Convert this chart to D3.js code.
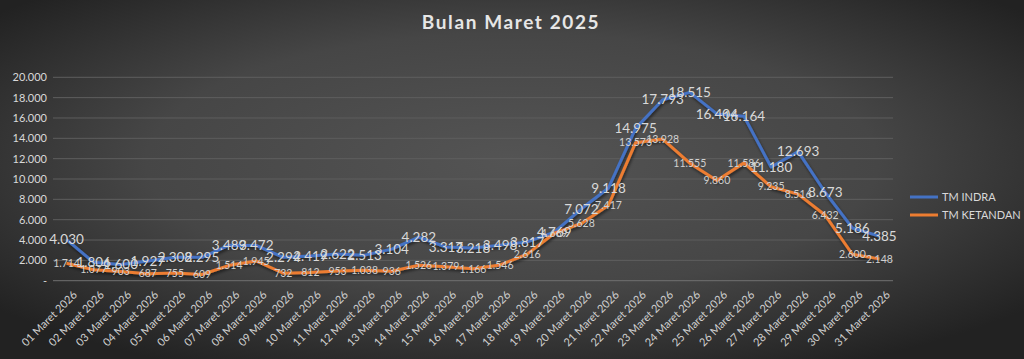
<!DOCTYPE html>
<html><head><meta charset="utf-8">
<script src="https://cdn.jsdelivr.net/npm/d3@7"></script>
<style>
html,body{margin:0;padding:0;background:#333;}
svg{display:block;font-family:Lato,"Open Sans",sans-serif;}
</style></head>
<body><svg id="c" width="1024" height="359"></svg>
<script>
const categories = ["01 Maret 2026","02 Maret 2026","03 Maret 2026","04 Maret 2026","05 Maret 2026","06 Maret 2026","07 Maret 2026","08 Maret 2026","09 Maret 2026","10 Maret 2026","11 Maret 2026","12 Maret 2026","13 Maret 2026","14 Maret 2026","15 Maret 2026","16 Maret 2026","17 Maret 2026","18 Maret 2026","19 Maret 2026","20 Maret 2026","21 Maret 2026","22 Maret 2026","23 Maret 2026","24 Maret 2026","25 Maret 2026","26 Maret 2026","27 Maret 2026","28 Maret 2026","29 Maret 2026","30 Maret 2026","31 Maret 2026"];
const tmIndra = [4030,1806,1600,1927,2308,2295,3489,3472,2294,2419,2622,2513,3104,4282,3317,3218,3498,3817,4769,7072,9118,14975,17793,18515,16404,16164,11180,12693,8673,5186,4385];
const tmKetandan = [1714,1077,903,687,755,609,1514,1945,732,812,953,1038,936,1526,1379,1166,1546,2616,4669,5628,7417,13573,13928,11555,9860,11586,9235,8516,6432,2600,2148];
const yTicks = [0,2000,4000,6000,8000,10000,12000,14000,16000,18000,20000];
const seriesNames = ["TM INDRA","TM KETANDAN"];
const seriesColors = ["#4472C4","#ED7D31"];
const chartTitle = "Bulan Maret 2025";

(function(){
const svg = d3.select("#c");
const W=1024,H=359;
const FONT = "Lato,'Open Sans',sans-serif";
const defs = svg.append("defs");
const rg = defs.append("radialGradient").attr("id","bg").attr("cx","50%").attr("cy","45%").attr("r","65%");
rg.append("stop").attr("offset","0%").attr("stop-color","#545454");
rg.append("stop").attr("offset","55%").attr("stop-color","#464646");
rg.append("stop").attr("offset","100%").attr("stop-color","#222222");
const sh = defs.append("filter").attr("id","sh").attr("x","-5%").attr("y","-20%").attr("width","110%").attr("height","140%");
sh.append("feDropShadow").attr("dx",1).attr("dy",2).attr("stdDeviation",1.5).attr("flood-color","#000").attr("flood-opacity",0.55);
svg.append("rect").attr("width",W).attr("height",H).attr("fill","url(#bg)");

const pLeft=53,pRight=893,pTop=77.3,pBottom=280.7;
const x = d3.scalePoint().domain(categories).range([pLeft,pRight]).padding(0.5);
const y = d3.scaleLinear().domain([0,20000]).range([pBottom,pTop]);

svg.append("text").attr("x",511).attr("y",29).attr("text-anchor","middle")
  .attr("fill","#e6e6e6").attr("font-size",19).attr("font-weight","bold").attr("letter-spacing",1.6)
  .attr("font-family",FONT).text(chartTitle);

svg.append("g").selectAll("line").data(yTicks).join("line")
  .attr("x1",pLeft).attr("x2",pRight).attr("y1",d=>y(d)).attr("y2",d=>y(d))
  .attr("stroke",d=>d===0?"#707070":"#5e5e5e").attr("stroke-width",1);

const fmt = d => d===0 ? "-" : d3.format(",")(d).replace(/,/g,".");
const ya = svg.append("g").attr("transform",`translate(${pLeft-6},0)`)
  .call(d3.axisLeft(y).tickValues(yTicks).tickFormat(fmt).tickSize(0).tickPadding(0));
ya.select(".domain").remove();
ya.selectAll("text").attr("fill","#d9d9d9").attr("font-size",11).attr("font-family",FONT);

const xa = svg.append("g").attr("transform",`translate(0,${pBottom+12})`)
  .call(d3.axisBottom(x).tickSize(0).tickPadding(0));
xa.select(".domain").remove();
xa.selectAll("text").attr("fill","#d0d0d0").attr("font-size",11)
  .attr("font-family",FONT)
  .attr("text-anchor","end").attr("dy","0.35em")
  .attr("transform","translate(8,0) rotate(-45)");

const line = d3.line().x((d,i)=>x(categories[i])).y(d=>y(d));
[tmIndra,tmKetandan].forEach((s,k)=>{
  svg.append("path").datum(s).attr("d",line).attr("fill","none")
    .attr("stroke",seriesColors[k]).attr("stroke-width",3).attr("stroke-linejoin","round")
    .attr("filter","url(#sh)");
});

const lf = d => d3.format(",")(d).replace(/,/g,".");
svg.append("g").selectAll("text").data(tmKetandan).join("text")
  .attr("x",(d,i)=>x(categories[i])).attr("y",d=>y(d)).attr("dy","0.35em")
  .attr("text-anchor","middle").attr("fill","#d0d0d0").attr("font-size",10.5)
  .attr("font-family",FONT).text(lf);
svg.append("g").selectAll("text").data(tmIndra).join("text")
  .attr("x",(d,i)=>x(categories[i])).attr("y",d=>y(d)).attr("dy","0.35em")
  .attr("text-anchor","middle").attr("fill","#d9d9d9").attr("font-size",13.5)
  .attr("font-family",FONT).text(lf);

const lg = svg.append("g");
seriesNames.forEach((n,k)=>{
  const yy = 197 + k*18;
  lg.append("line").attr("x1",910).attr("x2",938).attr("y1",yy).attr("y2",yy)
    .attr("stroke",seriesColors[k]).attr("stroke-width",3);
  lg.append("text").attr("x",942).attr("y",yy).attr("dy","0.35em").attr("fill","#d9d9d9")
    .attr("font-size",11).attr("font-family",FONT).text(n);
});
})();
</script></body></html>
